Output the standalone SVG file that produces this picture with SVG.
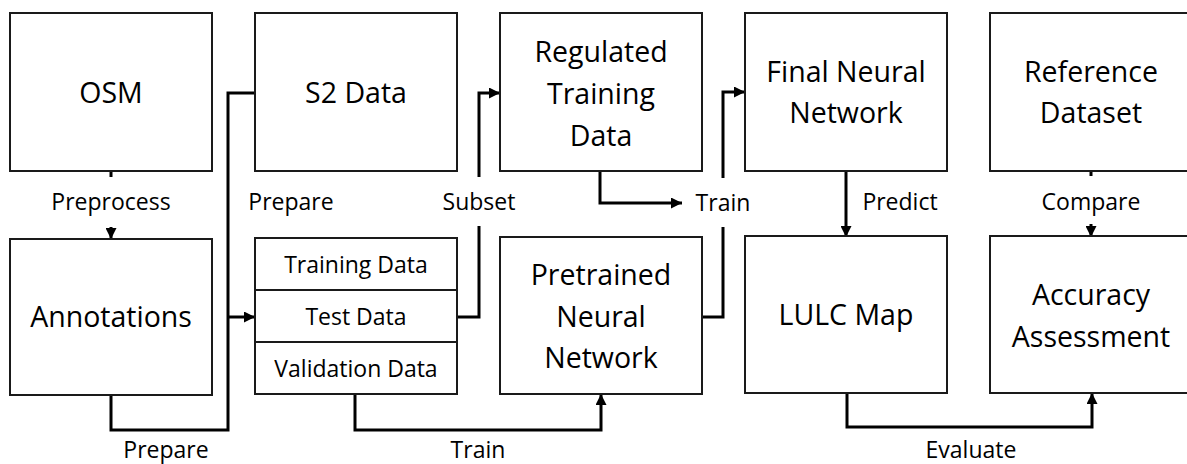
<svg xmlns="http://www.w3.org/2000/svg" width="1187" height="464" viewBox="0 0 1187 464">
  <style>
    .box { fill: #ffffff; stroke: #1a1a1a; stroke-width: 2; }
    .wire { fill: none; stroke: #000000; stroke-width: 3; }
    .big { font-family: "Open Sans", "Noto Sans", sans-serif; font-size: 28.5px; fill: #000000; text-anchor: middle; }
    .small { font-family: "Open Sans", "Noto Sans", sans-serif; font-size: 23px; fill: #000000; text-anchor: middle; }
  </style>
  <defs>
    <marker id="arrow" viewBox="0 0 10 10" refX="10" refY="5" markerWidth="11" markerHeight="11" markerUnits="userSpaceOnUse" orient="auto">
      <path d="M0,0 L10,5 L0,10 Z" fill="#000000"/>
    </marker>
  </defs>
  <rect width="1187" height="464" fill="#ffffff"/>

  <!-- connectors -->
  <g id="connectors">
    <!-- OSM to Annotations -->
    <path class="wire" d="M111,171 V177"/>
    <path class="wire" d="M111,227 V239" marker-end="url(#arrow)"/>
    <!-- S2 Data and Annotations join, then into the split -->
    <path class="wire" d="M255,93 H228 V430 H111 V395"/>
    <path class="wire" d="M228,317 H255" marker-end="url(#arrow)"/>
    <!-- Subset: split to Regulated Training Data -->
    <path class="wire" d="M457,317 H479 V226"/>
    <path class="wire" d="M479,177 V93 H500" marker-end="url(#arrow)"/>
    <!-- Regulated Training Data towards Train -->
    <path class="wire" d="M600,171 V203 H682" marker-end="url(#arrow)"/>
    <!-- Pretrained NN up to Final NN -->
    <path class="wire" d="M702,317 H723 V227"/>
    <path class="wire" d="M723,178 V92 H745" marker-end="url(#arrow)"/>
    <!-- Validation Data to Pretrained NN -->
    <path class="wire" d="M355,394 V430 H601 V394" marker-end="url(#arrow)"/>
    <!-- Predict -->
    <path class="wire" d="M846,171 V237" marker-end="url(#arrow)"/>
    <!-- Compare -->
    <path class="wire" d="M1091,171 V176"/>
    <path class="wire" d="M1091,224 V237" marker-end="url(#arrow)"/>
    <!-- Evaluate -->
    <path class="wire" d="M847,393 V427 H1092 V393" marker-end="url(#arrow)"/>
  </g>

  <!-- connector labels -->
  <g id="labels">
    <text class="small" x="111" y="210">Preprocess</text>
    <text class="small" x="291" y="210">Prepare</text>
    <text class="small" x="479" y="210">Subset</text>
    <text class="small" x="723" y="211">Train</text>
    <text class="small" x="900" y="210">Predict</text>
    <text class="small" x="1091" y="210">Compare</text>
    <text class="small" x="166" y="458">Prepare</text>
    <text class="small" x="478" y="458">Train</text>
    <text class="small" x="971" y="458">Evaluate</text>
  </g>

  <g id="osm">
    <rect class="box" x="10" y="13" width="202" height="158"/>
    <text class="big" x="111" y="103">OSM</text>
  </g>
  <g id="s2-data">
    <rect class="box" x="255" y="13" width="202" height="158"/>
    <text class="big" x="356" y="103">S2 Data</text>
  </g>
  <g id="regulated-training-data">
    <rect class="box" x="500" y="13" width="202" height="158"/>
    <text class="big" x="601" y="62">Regulated</text>
    <text class="big" x="601" y="104">Training</text>
    <text class="big" x="601" y="146">Data</text>
  </g>
  <g id="final-neural-network">
    <rect class="box" x="745" y="13" width="202" height="158"/>
    <text class="big" x="846" y="82">Final Neural</text>
    <text class="big" x="846" y="123">Network</text>
  </g>
  <g id="reference-dataset">
    <rect class="box" x="990" y="13" width="202" height="158"/>
    <text class="big" x="1091" y="82">Reference</text>
    <text class="big" x="1091" y="123">Dataset</text>
  </g>

  <g id="annotations">
    <rect class="box" x="10" y="239" width="202" height="156"/>
    <text class="big" x="111" y="327">Annotations</text>
  </g>
  <g id="data-split">
    <rect class="box" x="255" y="238" width="202" height="156"/>
    <line class="box" x1="255" y1="290" x2="457" y2="290"/>
    <line class="box" x1="255" y1="342" x2="457" y2="342"/>
    <text class="small" x="356" y="273">Training Data</text>
    <text class="small" x="356" y="325">Test Data</text>
    <text class="small" x="356" y="377">Validation Data</text>
  </g>
  <g id="pretrained-neural-network">
    <rect class="box" x="500" y="237" width="202" height="157"/>
    <text class="big" x="601" y="285">Pretrained</text>
    <text class="big" x="601" y="327">Neural</text>
    <text class="big" x="601" y="368">Network</text>
  </g>
  <g id="lulc-map">
    <rect class="box" x="745" y="236" width="202" height="157"/>
    <text class="big" x="846" y="325">LULC Map</text>
  </g>
  <g id="accuracy-assessment">
    <rect class="box" x="990" y="236" width="202" height="157"/>
    <text class="big" x="1091" y="305">Accuracy</text>
    <text class="big" x="1091" y="347">Assessment</text>
  </g>
</svg>
